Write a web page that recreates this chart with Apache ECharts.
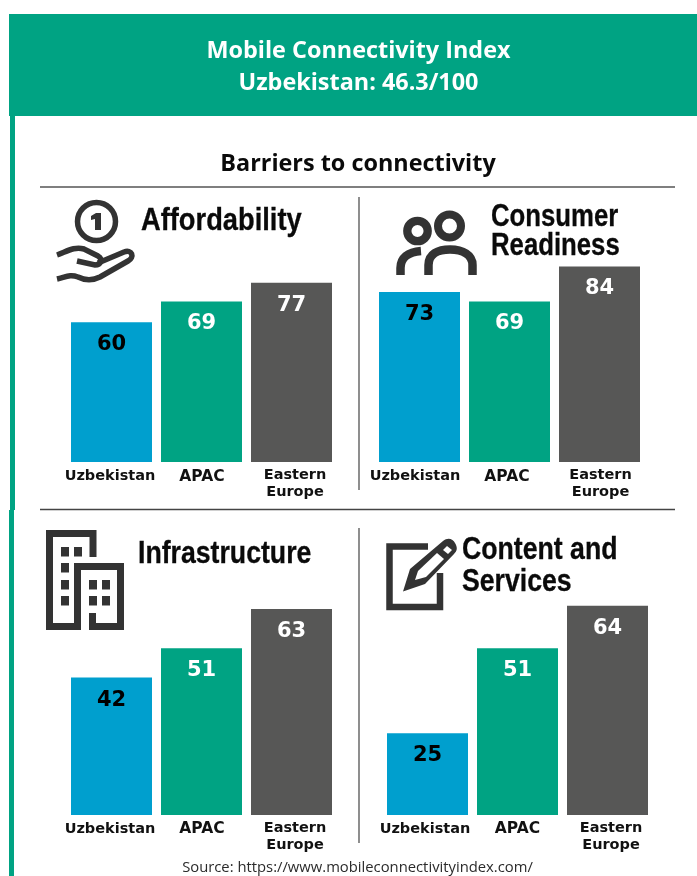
<!DOCTYPE html>
<html><head><meta charset="utf-8">
<style>html,body{margin:0;padding:0;background:#fff}#c{width:697px;height:876px}</style>
<script src="https://cdn.jsdelivr.net/npm/echarts@6/dist/echarts.min.js"></script>
</head><body><div id="c"></div>
<script>
const regions = ['Uzbekistan', 'APAC', 'Eastern Europe'];
const affordability = [60, 69, 77];
const consumerReadiness = [73, 69, 84];
const infrastructure = [42, 51, 63];
const contentServices = [25, 51, 64];
const headerLines = 'Mobile Connectivity Index\nUzbekistan: 46.3/100';
const subtitle = 'Barriers to connectivity';
const sourceText = 'Source: https://www.mobileconnectivityindex.com/';

const GREEN = '#00A383', BLUE = '#009FCE', GRAY = '#575756', DARK = '#333333';
const barColors = [BLUE, GREEN, GRAY];
const labelColors = ['#000000', '#ffffff', '#ffffff'];
const NUM = '"DejaVu Sans"', HEAD = '"Liberation Sans"';

const panels = [
  {name:'Affordability', data:affordability, left:66.5, bottom:462, max:90, h:209.5, tx:141, ty:206, lh:30, sx:0.88, margin:5, pad:[-1.5,0.5,3.5]},
  {name:'Consumer\nReadiness', data:consumerReadiness, left:374.5, bottom:462, max:90, h:209.5, tx:491, ty:202.5, lh:29, sx:0.83, margin:5, pad:[-4.5,-2.5,1]},
  {name:'Infrastructure', data:infrastructure, left:66.5, bottom:815, max:70, h:229, tx:138, ty:539, lh:30, sx:0.86, margin:4.5, pad:[-1.5,0.5,3.5]},
  {name:'Content and\nServices', data:contentServices, left:382.5, bottom:815, max:70, h:229, tx:462, ty:534, lh:32, sx:0.86, margin:4.5, pad:[-2.5,0,3.5]}
];
const grids=[],xAxes=[],yAxes=[],series=[],titles=[],headings=[];
panels.forEach((p,i)=>{
  grids.push({left:p.left, width:270, top:p.bottom-p.h, height:p.h});
  const rich={};
  [0,1,2].forEach(k=>{
    const off=p.pad[k];
    rich['r'+k]={fontFamily:NUM,fontWeight:'bold',fontSize:k===1?15.5:14.5,lineHeight:17,color:'#111',
      padding: [k<2?2:0, off<0?-off*2:0, 0, off>0?off*2:0]};
  });
  xAxes.push({type:'category',gridIndex:i,data:regions,
    axisLine:{show:false},axisTick:{show:false},
    axisLabel:{interval:0,margin:p.margin,verticalAlign:'top',rich,
      formatter:(v,idx)=>v.split(' ').map(w=>'{r'+idx+'|'+w+'}').join('\n')}});
  yAxes.push({type:'value',gridIndex:i,min:0,max:p.max,show:false,splitLine:{show:false}});
  series.push({type:'bar',xAxisIndex:i,yAxisIndex:i,barWidth:81,barGap:0,
    data:p.data.map((v,k)=>({value:v,itemStyle:{color:barColors[k]},
      label:{color:labelColors[k]}})),
    label:{show:true,position:'insideTop',distance:12,fontFamily:NUM,fontWeight:'bold',fontSize:21}});
  headings.push({type:'text',x:p.tx,y:p.ty,scaleX:p.sx,silent:true,style:{text:p.name,fontFamily:HEAD,fontWeight:'bold',fontSize:31,lineHeight:p.lh,fill:'#0a0a0a',stroke:'#0a0a0a',lineWidth:0.3}});
});
titles.push({text:headerLines,left:353.5,top:30,textAlign:'center',textStyle:{fontFamily:'"Open Sans"',fontWeight:'bold',fontSize:23.4,lineHeight:32,color:'#fff'}});
titles.push({text:subtitle,left:353,top:147.5,textAlign:'center',textStyle:{fontFamily:'"Open Sans"',fontWeight:'bold',fontSize:23.4,color:'#0a0a0a'}});
titles.push({text:sourceText,left:352.5,top:855,textAlign:'center',textStyle:{fontFamily:'"Open Sans"',fontWeight:'normal',fontSize:14.8,color:'#2b2b2b'}});

const rect=(x,y,w,h,c)=>({type:'rect',shape:{x,y,width:w,height:h},style:{fill:c},silent:true});
const line=(x1,y1,x2,y2,c,w)=>({type:'line',shape:{x1,y1,x2,y2},style:{stroke:c,lineWidth:w},silent:true});
let iconCount=0;
function sp(d,w,fill){ // registers an icon outline (page coordinates) as a graphic shape
  const name='icon'+(iconCount++);
  echarts.graphic.registerShape(name,echarts.graphic.extendPath(d,{}));
  return {type:name,silent:true,style:{fill:fill||'none',stroke:w?DARK:'none',lineWidth:w||0}};
}
const graphic=[
  rect(9,14,688,102,GREEN),
  rect(10,116,5,394,GREEN),
  rect(9,510,5,366,GREEN),
  line(40,187,675,187,'#555',1.3),
  line(40,509.5,675,509.5,'#444',1.3),
  line(359,197,359,490,'#444',1.2),
  line(359,528,359,843,'#444',1.2),
  // coin and hand
  {type:'circle',shape:{cx:96.5,cy:221.5,r:19},style:{fill:'none',stroke:DARK,lineWidth:5.5},silent:true},
  sp('M91,216 L96,213 L101,213 L101,230 L95,230 L95,219 L91,220 Z',0,DARK),
  sp('M57,255 C66,252 74,246 84,249 L98,256 C103,259 101,265 95,265 L77,261',5.5),
  sp('M98,263 L124,252 C132,249 135,257 128,261 L100,277 C92,281 84,280 78,277 C70,274 66,277 57,279',5.5),
  // people
  {type:'circle',shape:{cx:417.5,cy:231,r:10.2},style:{fill:'none',stroke:DARK,lineWidth:8.3},silent:true},
  {type:'circle',shape:{cx:449.5,cy:226,r:11.5},style:{fill:'none',stroke:DARK,lineWidth:8},silent:true},
  sp('M400.5,275 L400.5,268 C400.5,258 408,252 421,251',8.5),
  sp('M428.5,275 L428.5,265 C428.5,254 438,249.5 450,249.5 C463,249.5 472.5,255 472.5,265 L472.5,275',8.5),
  // buildings
  sp('M92.5,613 L92.5,626.5 L120.5,626.5 L120.5,566.5 L77.5,566.5 L77.5,626.5 L49.5,626.5 L49.5,533.5 L93,533.5 L93,557',7),
  rect(61,547,8,9.5,DARK),rect(74,547,8,9.5,DARK),rect(61,563,8,9.5,DARK),rect(61,580,8,9.5,DARK),rect(61,596,8,9.5,DARK),
  rect(89,580,8,9.5,DARK),rect(102,580,8,9.5,DARK),rect(89,596,8,9.5,DARK),rect(102,596,8,9.5,DARK),
  // note and pencil
  sp('M428,546.5 L389.5,546.5 L389.5,607 L440,607 L440,573',6.5),
  sp('M403,591.5 L410,569 L443,541 C448,537 453,539 455,543 C458,548 457,551 454,554 L425,584 Z',0,DARK),
  sp('M415,580 L418,571 L437,553 L444,559 L426,577 Z',0,'#ffffff'),
  sp('M443,550 L447,546 L452,550 L448,554 Z',0,'#ffffff')
].concat(headings);
const chart=echarts.init(document.getElementById('c'),null,{renderer:'canvas'});
chart.setOption({animation:false,backgroundColor:'#fff',title:titles,grid:grids,xAxis:xAxes,yAxis:yAxes,series,graphic});
</script></body></html>
